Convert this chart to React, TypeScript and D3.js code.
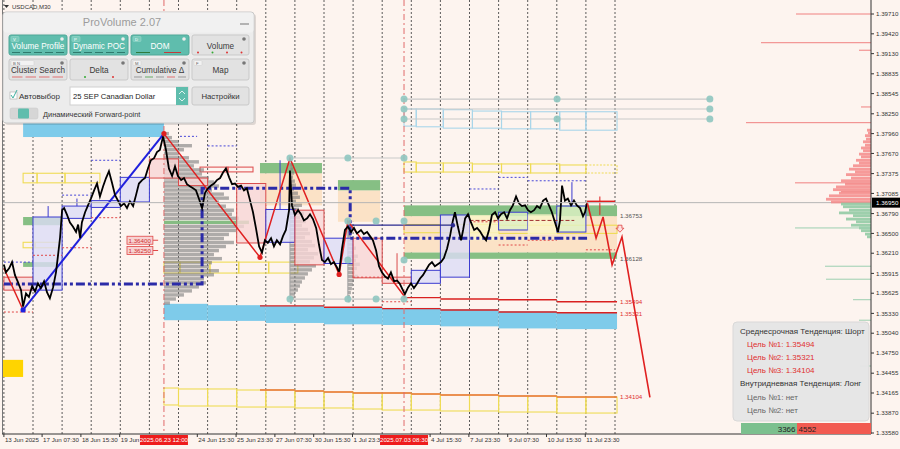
import React from "react";
import * as d3 from "d3";

// ---------------- DATA ----------------
const priceTicks = [1.39710,1.39420,1.39130,1.38835,1.38545,1.38250,1.37960,1.37670,1.37375,1.37085,1.36790,1.36500,1.36210,1.35915,1.35625,1.35330,1.35040,1.34750,1.34455,1.34165,1.33870,1.33580];
const currentPrice = 1.36950;

// t = trading days since 16 Jun 00:00
const timeLabels: [number, string][] = [[0,"13 Jun 2025"],[1.3125,"17 Jun 07:30"],[2.646,"18 Jun 15:30"],[3.979,"19 Jun 23:30"],[6.646,"24 Jun 15:30"],[7.979,"25 Jun 23:30"],[9.3125,"27 Jun 07:30"],[10.646,"30 Jun 15:30"],[11.979,"1 Jul 23:30"],[14.646,"4 Jul 15:30"],[15.979,"7 Jul 23:30"],[17.3125,"9 Jul 07:30"],[18.646,"10 Jul 15:30"],[19.979,"11 Jul 23:30"]];
const markerLabels: [number, string][] = [[5.5,"2025.06.23 12:00"],[13.75,"2025.07.03 08:30"]];
const dayStarts = d3.range(0, 22);

const priceSeries: [number, number][] = [
[0.00,1.3604],[0.07,1.3593],[0.18,1.3599],[0.28,1.3608],[0.38,1.3589],[0.48,1.3579],[0.59,1.3567],[0.66,1.3543],[0.76,1.3562],[0.86,1.3557],[0.97,1.3573],[1.07,1.3565],[1.17,1.3577],[1.27,1.3570],[1.38,1.3580],[1.48,1.3564],[1.58,1.3555],[1.69,1.3571],[1.79,1.3593],[1.86,1.3618],[1.93,1.3644],[2.00,1.3684],[2.07,1.3687],[2.17,1.3677],[2.27,1.3666],[2.37,1.3660],[2.48,1.3652],[2.55,1.3663],[2.62,1.3643],[2.68,1.3666],[2.79,1.3681],[2.89,1.3691],[2.99,1.3701],[3.10,1.3713],[3.20,1.3723],[3.30,1.3704],[3.41,1.3719],[3.51,1.3731],[3.61,1.3741],[3.71,1.3725],[3.82,1.3706],[3.92,1.3698],[4.02,1.3690],[4.13,1.3694],[4.23,1.3687],[4.33,1.3697],[4.44,1.3690],[4.54,1.3706],[4.64,1.3723],[4.75,1.3728],[4.85,1.3731],[4.95,1.3745],[5.05,1.3757],[5.16,1.3760],[5.26,1.3769],[5.36,1.3772],[5.47,1.3792],[5.57,1.3772],[5.67,1.3745],[5.78,1.3734],[5.88,1.3748],[5.98,1.3734],[6.09,1.3728],[6.19,1.3731],[6.29,1.3722],[6.39,1.3719],[6.50,1.3716],[6.60,1.3713],[6.70,1.3701],[6.81,1.3687],[6.91,1.3709],[7.01,1.3716],[7.12,1.3720],[7.22,1.3723],[7.32,1.3728],[7.43,1.3731],[7.53,1.3739],[7.63,1.3745],[7.74,1.3732],[7.84,1.3722],[7.94,1.3723],[8.04,1.3718],[8.15,1.3720],[8.25,1.3713],[8.35,1.3716],[8.46,1.3698],[8.56,1.3681],[8.66,1.3658],[8.77,1.3631],[8.87,1.3622],[8.97,1.3640],[9.07,1.3636],[9.18,1.3643],[9.28,1.3631],[9.38,1.3640],[9.49,1.3634],[9.59,1.3646],[9.69,1.3655],[9.80,1.3684],[9.83,1.3742],[9.90,1.3691],[10.00,1.3677],[10.11,1.3684],[10.21,1.3678],[10.31,1.3669],[10.42,1.3672],[10.52,1.3678],[10.62,1.3671],[10.73,1.3658],[10.83,1.3633],[10.93,1.3611],[11.03,1.3608],[11.14,1.3614],[11.24,1.3605],[11.34,1.3608],[11.45,1.3600],[11.52,1.3593],[11.62,1.3628],[11.72,1.3655],[11.82,1.3660],[11.93,1.3652],[12.03,1.3658],[12.13,1.3650],[12.27,1.3655],[12.37,1.3649],[12.48,1.3652],[12.58,1.3646],[12.68,1.3640],[12.79,1.3625],[12.89,1.3602],[12.99,1.3593],[13.10,1.3587],[13.20,1.3584],[13.30,1.3593],[13.41,1.3580],[13.51,1.3581],[13.61,1.3576],[13.71,1.3567],[13.78,1.3561],[13.89,1.3571],[13.99,1.3577],[14.09,1.3570],[14.19,1.3576],[14.30,1.3584],[14.40,1.3589],[14.50,1.3596],[14.61,1.3604],[14.71,1.3608],[14.81,1.3602],[14.91,1.3605],[15.02,1.3608],[15.12,1.3614],[15.23,1.3628],[15.33,1.3646],[15.43,1.3669],[15.50,1.3681],[15.60,1.3660],[15.71,1.3640],[15.78,1.3655],[15.85,1.3672],[15.95,1.3678],[16.05,1.3666],[16.16,1.3655],[16.26,1.3658],[16.36,1.3653],[16.46,1.3646],[16.57,1.3640],[16.67,1.3655],[16.77,1.3677],[16.88,1.3681],[16.98,1.3672],[17.08,1.3678],[17.19,1.3681],[17.29,1.3672],[17.39,1.3684],[17.49,1.3691],[17.60,1.3704],[17.70,1.3694],[17.80,1.3690],[17.91,1.3691],[18.01,1.3684],[18.11,1.3681],[18.22,1.3684],[18.32,1.3690],[18.42,1.3687],[18.53,1.3698],[18.63,1.3701],[18.73,1.3691],[18.83,1.3681],[18.94,1.3666],[19.04,1.3652],[19.11,1.3669],[19.18,1.3720],[19.28,1.3698],[19.38,1.3701],[19.49,1.3691],[19.59,1.3698],[19.69,1.3691],[19.80,1.3687],[19.90,1.3675],[19.97,1.3681],[20.04,1.3695]
];

const zigzagRedA: [number, number][] = [[0,1.3599],[0.66,1.3538]];
const zigzagBlue: [number, number][] = [[0.66,1.3538],[5.5,1.3796]];
const zigzagRedB: [number, number][] = [[5.5,1.3796],[8.80,1.3615],[9.83,1.3760],[11.52,1.3590],[11.82,1.3668],[13.78,1.3557]];
const forecast: [number, number][] = [[20.04,1.3696],[20.35,1.3643],[20.59,1.3674],[20.90,1.3604],[21.24,1.3645],[22.20,1.3410]];
const redDots: [number, number][] = [[5.5,1.3796],[8.80,1.3615],[11.52,1.3590]];
const blueDots: [number, number][] = [[0.66,1.3538]];

const pocPath: [number, number][] = [[0,1.3576],[6.81,1.3576],[6.81,1.3716],[11.9,1.3716],[11.9,1.3643],[20.04,1.3643]];

// day value-area boxes [t0,t1,hi,lo,kind]
const dayBoxes: [number, number, number, number, string][] = [
 [0,1,1.3586,1.3567,"r"],[1,2,1.3674,1.3567,"b"],[2,3,1.3690,1.3672,"b"],[3,4,1.3698,1.3688,"b"],[4,5,1.3732,1.3696,"b"],
 [5,6,1.3759,1.3731,"r"],[6,7,1.3731,1.3720,"r"],[8,9,1.3723,1.3636,"r"],[9,10,1.3685,1.3637,"b"],[10,11,1.3684,1.3604,"r"],
 [11,12,1.3643,1.3606,"b"],[12,13,1.3643,1.3585,"r"],[13,14,1.3586,1.3577,"r"],[14,15,1.3596,1.3577,"b"],[15,16,1.3677,1.3586,"b"],
 [16,17,1.3677,1.3640,"y"],[17,18,1.3681,1.3655,"g"],[18,19,1.3678,1.3648,"y"],[19,20,1.3690,1.3652,"g"]
];

// filled zones [t0,t1,hi,lo,kind]
const zones: [number, number, number, number, string][] = [
 [0.66,5.5,1.3813,1.3791,"cyan"],
 [5.5,7,1.3547,1.3523,"cyan"],[7,9,1.3545,1.3522,"cyan"],[9,11,1.3544,1.3519,"cyan"],[11,13,1.3542,1.3517,"cyan"],
 [13,15,1.3541,1.3516,"cyan"],[15,17,1.3539,1.3514,"cyan"],[17,19,1.3536,1.3511,"cyan"],[19,21.07,1.3535,1.3510,"cyan"],
 [0.66,2,1.3674,1.3662,"green"],[0.66,1.8,1.3608,1.3601,"green"],
 [8.8,10.93,1.3738,1.3691,"peach"],[8.8,10.93,1.3753,1.3738,"green"],
 [11.48,12.93,1.3713,1.3667,"peach"],[11.48,12.93,1.3728,1.3713,"green"],
 [13.75,21.07,1.36753,1.3622,"peach"],[13.75,21.07,1.3691,1.36753,"green"],[13.75,21.07,1.3622,1.36128,"green"],
 [-0.03,0.66,1.3465,1.3440,"gold"]
];

// outline boxes [t0,t1,hi,lo,kind]
const outlineBoxes: [number, number, number, number, string][] = [
 [0.66,1.14,1.3738,1.3724,"y"],[1.14,2.1,1.3738,1.3724,"y"],[2.1,3.3,1.3738,1.3724,"y"],
 [0.66,1.07,1.3637,1.3629,"y"],[1.07,1.93,1.3637,1.3629,"y"],
 [5.5,6.05,1.3608,1.3592,"y"],[6.05,7.08,1.3608,1.3592,"y"],[7.08,8.07,1.3608,1.3592,"y"],[8.07,9.1,1.3608,1.3592,"y"],[9.1,10.1,1.3608,1.3592,"y"],
 [6.74,7.7,1.3747,1.3740,"r"],[7.7,8.56,1.3747,1.3740,"r"],
 [13.75,14.17,1.37545,1.37398,"y"],[14.17,15.1,1.37530,1.37398,"y"],[15.1,16.1,1.37530,1.37398,"y"],[16.1,17.1,1.37516,1.37398,"y"],
 [17.1,18.1,1.37516,1.37384,"y"],[18.1,19.1,1.37516,1.37384,"y"],[19.1,20.0,1.37501,1.37384,"y"],[20.0,21.07,1.37501,1.37384,"yd"],
 [13.75,14.17,1.3832,1.3807,"c"],[14.17,15.1,1.3832,1.3806,"c"],[15.1,16.1,1.3831,1.3804,"c"],[16.1,17.1,1.3829,1.3804,"c"],
 [17.1,18.1,1.3828,1.3803,"c"],[18.1,19.1,1.3828,1.3803,"c"],[19.1,20.0,1.3828,1.3801,"c"],[20.0,21.07,1.3828,1.3801,"c"],
 [13.75,15,1.3663,1.3651,"y"],[15,17,1.3663,1.3651,"y"],[17,19,1.3662,1.3650,"y"],[19,21.07,1.3662,1.3650,"y"],
 [5.5,6,1.34238,1.33990,"y"],[6,7,1.34224,1.33975,"y"],[7,8,1.34224,1.33975,"y"],[8,9,1.34209,1.33960,"y"],[9,10,1.34209,1.33960,"y"],
 [10,11,1.34194,1.33946,"y"],[11,12,1.34180,1.33946,"y"],[12,13,1.34165,1.33931,"y"],[13,14,1.34165,1.33916,"y"],[14,15,1.34150,1.33916,"y"],
 [15,16,1.34136,1.33902,"y"],[16,17,1.34136,1.33902,"y"],[17,18,1.34121,1.33887,"y"],[18,19,1.34121,1.33887,"y"],[19,20,1.34106,1.33872,"y"],[20,21.07,1.34106,1.33872,"y"]
];

// stepped target lines [t0,t1,price]
const target1Steps: [number, number, number][] = [[13.75,15,1.3556],[15,17,1.3554],[17,19,1.3553],[19,21.07,1.3550]];
const target2Steps: [number, number, number][] = [[8.8,11,1.3544],[11,13,1.3542],[13,15,1.3540],[15,17,1.3538],[17,19,1.3535],[19,21.07,1.3534]];
const target3Steps: [number, number, number][] = [[8.8,10,1.34209],[10,11,1.34194],[11,12,1.34180],[12,14,1.34165],[14,15,1.34150],[15,17,1.34136],[17,19,1.34121],[19,21.07,1.34106]];

const levelLabels: [number, string, string][] = [[1.36753,"1.36753","#555"],[1.36128,"1.36128","#555"],[1.35494,"1.35494","#e03030"],[1.35321,"1.35321","#e03030"],[1.34104,"1.34104","#e03030"]];

// dotted day levels [t0,t1,price,kind]
const dottedLevels: [number, number, number, string][] = [
 [0,1,1.3608,"b"],[2,3,1.3706,"b"],[3,4,1.3757,"b"],[6.05,6.64,1.3792,"b"],[7,8,1.3778,"b"],[16,17,1.3715,"b"],[17,18,1.3732,"b"],[18,20,1.3727,"b"],
 [0,1,1.3535,"r"],[1,2,1.3618,"r"],[2,3,1.3629,"r"],[3,4,1.3673,"r"],[12,13,1.3586,"r"],[13,14,1.3550,"r"],[16,17,1.3667,"r"],[17,18,1.3633,"r"],[18,19,1.3640,"r"],[20,21,1.3626,"r"]
];
const wicks: [number, number, number, string][] = [[1.52,1.3690,1.3674,"b"],[2.51,1.3701,1.3690,"b"],[9.49,1.3757,1.3685,"b"],[19.52,1.3725,1.3690,"b"],[13.51,1.3621,1.3582,"r"]];

// gray guide lines with dots [t0,t1,price]
const guideLines: [number, number, number][] = [[13.75,24.26,1.38466],[13.75,24.26,1.38320],[13.75,24.26,1.38174],[9.83,13.75,1.37603],[9.83,13.75,1.35540]];
const guideDots: [number, number][] = [[13.75,1.38466],[19.01,1.38466],[24.26,1.38466],[13.75,1.38320],[24.26,1.38320],[13.75,1.38174],[19.01,1.38174],[24.26,1.38174],
 [9.83,1.37603],[11.82,1.37603],[13.75,1.37603],[11.82,1.3668],[12.79,1.3668],[13.75,1.3668],[11.82,1.3611],[13.75,1.3611],
 [9.83,1.35540],[11.82,1.35540],[12.79,1.35540],[13.75,1.35540]];

// volume profiles (bins top->down)
const profileStep = 0.00059;
const profile1 = { t: 5.5, top: 1.3796, vols: [5,8,15,28,20,15,25,35,30,40,38,45,50,55,48,60,65,55,62,70,68,75,85,80,72,65,60,70,62,55,50,58,48,45,55,50,40,42,35,28,20,12,6], poc: 22 };
const profile2 = { t: 9.83, top: 1.37501, vols: [2,3,4,3,5,6,4,8,10,6,12,9,14,10,16,12,18,20,15,22,25,18,28,24,20,26,22,18,15,12,10,8,5,4,2], poc: -1 };
const profile3 = { t: 11.82, top: 1.36579, vols: [2,4,3,6,5,8,6,10,8,12,9,7,10,6,5,4,3,2,2], poc: -1 };

// DOM (order book) profile at right edge
const domAsks: [number, number][] = [[1.3801,4],[1.3797,3],[1.3793,6],[1.3788,5],[1.3784,8],[1.3779,6],[1.3775,10],[1.3771,8],[1.3766,12],[1.3762,10],[1.3757,15],[1.3753,12],[1.3749,18],[1.3744,22],[1.3740,16],[1.3736,25],[1.3731,20],[1.3727,30],[1.3722,26],[1.3718,35],[1.3714,38],[1.3709,32],[1.3705,42],[1.3700,45],[1.3696,40]];
const domBids: [number, number][] = [[1.3693,30],[1.3689,28],[1.3684,22],[1.3680,32],[1.3676,18],[1.3671,25],[1.3667,15],[1.3662,20],[1.3658,12],[1.3654,10],[1.3649,6],[1.3645,4]];
const domAskLines: [number, number][] = [[1.3971,75],[1.3929,110],[1.3918,12],[1.3835,10],[1.3812,125],[1.3724,76],[1.3711,30]];
const domBidLines: [number, number][] = [[1.3658,76],[1.3602,46],[1.3583,45],[1.3553,18],[1.3523,12],[1.3456,11]];

const infoLines: [string, string, boolean][] = [
 ["Среднесрочная Тенденция: Шорт","#333",false],["Цель №1: 1.35494","#e03030",true],["Цель №2: 1.35321","#e03030",true],["Цель №3: 1.34104","#e03030",true],
 ["Внутридневная Тенденция: Лонг","#333",false],["Цель №1: нет","#666",true],["Цель №2: нет","#666",true]
];
const buyVolume = 3366, sellVolume = 4552;

// ---------------- COMPONENT ----------------
const FONT = "'Liberation Sans', Arial, sans-serif";

function Btn({ x, y, w, h, label, active, badge, children }: any) {
  const teal = "#5fbdad";
  return (
    <g>
      <rect x={x} y={y} width={w} height={h} rx={2} fill={active ? teal : "#e2e2e2"} stroke={active ? "#4fa797" : "#c9c9c9"} />
      {badge && <g><rect x={x + 2} y={y + 1.5} width={badge.length * 5 + 3} height={5} rx={1} fill={active ? "#78cabb" : "#f2f2f2"} stroke={active ? "#9fdacf" : "#cfcfcf"} strokeWidth={0.5} />
        <text x={x + 4} y={y + 5.6} fontSize={4.2} fill={active ? "#fff" : "#666"}>{badge}</text></g>}
      <circle cx={x + w - 5} cy={y + 4} r={1.8} fill={active ? "#eee" : "#777"} />
      <text x={x + w / 2} y={y + 13.5} fontSize={8.2} textAnchor="middle" fill={active ? "#fff" : "#3a3a3a"}>{label}</text>
      {children}
    </g>
  );
}

function Panel() {
  const dash = (x0: number, y0: number, n: number, w: number, colors: string[]) =>
    d3.range(n).map(i => <line key={i} x1={x0 + i * w + 1} x2={x0 + i * w + w - 2} y1={y0} y2={y0} stroke={colors[i % colors.length]} strokeWidth={1} />);
  return (
    <g fontFamily={FONT}>
      <rect x={5} y={14} width={251} height={111} rx={3} fill="#000" opacity={0.12} />
      <rect x={3} y={12} width={251} height={111} rx={3} fill="#ececec" stroke="#c8c8c8" />
      <rect x={3.5} y={12.5} width={250} height={20} rx={3} fill="#f1f1f1" />
      <text x={122} y={26} fontSize={11} textAnchor="middle" fill="#9c9c9c">ProVolume 2.07</text>
      <line x1={240} x2={249} y1={24} y2={24} stroke="#8a8a8a" strokeWidth={1.2} />
      <Btn x={9} y={35} w={58} h={20} label="Volume Profile" active badge="V">{dash(11, 52.5, 5, 11, ["#2f7a6d"])}</Btn>
      <Btn x={70} y={35} w={58} h={20} label="Dynamic POC" active badge="P">{dash(72, 52.5, 5, 11, ["#2f7a6d"])}</Btn>
      <Btn x={131} y={35} w={58} h={20} label="DOM" active badge="D"><line x1={136} x2={150} y1={52.5} y2={52.5} stroke="#2f7a3d" /><line x1={164} x2={181} y1={52.5} y2={52.5} stroke="#c23a3a" /></Btn>
      <Btn x={192} y={35} w={57} h={20} label="Volume">{["#d33","#3a3","#d33","#d33"].map((c, i) => <circle key={i} cx={198 + i * 14.5} cy={52.5} r={1} fill={c} />)}</Btn>
      <Btn x={9} y={59} w={58} h={21} label="Cluster Search" badge="B  N">{dash(11, 77, 4, 13.5, ["#e07070"])}</Btn>
      <Btn x={70} y={59} w={58} h={21} label="Delta"><circle cx={85} cy={77} r={1} fill="#3a3" /><circle cx={113} cy={77} r={1} fill="#d33" /></Btn>
      <Btn x={131} y={59} w={58} h={21} label="Cumulative Δ" badge="M">{dash(133, 77, 5, 11, ["#999", "#6a6", "#999", "#e07070", "#999"])}</Btn>
      <Btn x={192} y={59} w={57} h={21} label="Map" badge="F" />
      <rect x={10} y={92} width={7} height={7} fill="#fff" stroke="#aaa" strokeWidth={0.6} />
      <path d="M11,95 L13,98 L17,90" fill="none" stroke="#3fb0a0" strokeWidth={1} />
      <text x={19} y={99} fontSize={8} fill="#333">Автовыбор</text>
      <rect x={70} y={87} width={118} height={18} fill="#fff" stroke="#cfcfcf" />
      <text x={73} y={99} fontSize={7.6} fill="#222">25 SEP Canadian Dollar</text>
      <rect x={176} y={87} width={12} height={18} fill="#5fbdad" />
      <path d="M179,94 L182,91 L185,94 M179,98 L182,101 L185,98" fill="none" stroke="#fff" strokeWidth={0.8} />
      <rect x={192} y={87} width={57} height={18} rx={2} fill="#e2e2e2" stroke="#c9c9c9" />
      <text x={220.5} y={99} fontSize={7.8} textAnchor="middle" fill="#333">Настройки</text>
      <rect x={10} y={108} width={28} height={11} rx={2} fill="#d6d6d6" stroke="#c8c8c8" strokeWidth={0.5} />
      <rect x={18} y={108.5} width={11} height={10} rx={1} fill="#5fbdad" />
      <text x={43} y={117} fontSize={7.4} fill="#333">Динамический Forward-point</text>
    </g>
  );
}

export default function App() {
  const x = d3.scaleLinear().domain([0, 29.8]).range([3.9, 871.08]);
  const y = d3.scaleLinear().domain([1.3358, 1.3971]).range([433, 14]);
  const vol = d3.scaleLinear().domain([0, 100]).range([0, 100]);
  const line = d3.line<[number, number]>().x(d => x(d[0])).y(d => y(d[1]));
  const R = (t0: number, t1: number, hi: number, lo: number) => ({ x: x(t0), y: y(hi), width: x(t1) - x(t0), height: y(lo) - y(hi) });
  const AXR = 871, AXB = 434;

  const zoneFill: any = { cyan: "#7ecbea", green: "#86bf84", peach: "#fbe2c6", gold: "#ffd400" };
  const boxStyle: any = {
    r: { fill: "#f8d6d6", stroke: "#d94c4c" }, b: { fill: "#dcdcf6", stroke: "#3c3cd0" },
    y: { fill: "#fbf6c8", stroke: "none" }, g: { fill: "#def3c6", stroke: "#3c3cd0" }
  };
  const outlineStroke: any = { y: "#efdc55", yd: "#efdc55", r: "#e05555", c: "#a9d6ea" };

  const profileBars = (p: any, key: string) => p.vols.map((v: number, i: number) => {
    const pr = p.top - i * profileStep;
    const yc = y(pr);
    return <rect key={key + i} x={x(p.t)} y={yc - 1.7} width={vol(v)} height={3.4} fill={i === p.poc ? "#7fb87c" : "#7a7a7a"} opacity={i === p.poc ? 0.95 : 0.6} />;
  });

  const stepPath = (steps: [number, number, number][]) => steps.map(s => `M${x(s[0])},${y(s[2])}H${x(s[1])}`).join("");

  return (
    <svg width={900} height={449} style={{ position: "fixed", left: 0, top: 0, display: "block" }} fontFamily={FONT}>
      <defs>
        {markerLabels.map(([t], i) => (
          <clipPath key={"cp" + i} id={"tclip" + i}><rect x={0} y={AXB} width={x(t) - 24} height={15} /></clipPath>
        ))}
      </defs>
      <rect x={0} y={0} width={900} height={449} fill="#fdf4ef" />

      {/* day separators */}
      {dayStarts.map(t => <line key={"d" + t} x1={x(t)} x2={x(t)} y1={0} y2={AXB} stroke="#4a4a4a" strokeWidth={0.9} strokeDasharray="2 2" />)}

      {/* zones */}
      {zones.map((z, i) => <rect key={"z" + i} {...R(z[0], z[1], z[2], z[3])} fill={zoneFill[z[4]]} />)}

      {/* outline boxes */}
      {outlineBoxes.map((b, i) => <rect key={"o" + i} {...R(b[0], b[1], b[2], b[3])} fill="none" stroke={outlineStroke[b[4]]} strokeWidth={1.1} strokeDasharray={b[4] === "yd" ? "2 1.5" : undefined} />)}

      {/* volume profiles */}
      {profileBars(profile1, "p1")}
      {profileBars(profile2, "p2")}
      {profileBars(profile3, "p3")}
      <line x1={x(profile2.t)} x2={x(profile2.t)} y1={y(1.3760)} y2={y(1.3554)} stroke="#a0a0a0" />
      <line x1={x(profile3.t)} x2={x(profile3.t)} y1={y(1.3668)} y2={y(1.3554)} stroke="#a0a0a0" />

      {/* day boxes */}
      {dayBoxes.map((b, i) => <rect key={"b" + i} {...R(b[0], b[1], b[2], b[3])} fill={boxStyle[b[4]].fill} fillOpacity={0.8} stroke={boxStyle[b[4]].stroke} strokeWidth={1} />)}
      <line x1={x(16)} x2={x(19.6)} y1={y(1.3669)} y2={y(1.3669)} stroke="#a03030" strokeWidth={1} strokeDasharray="4 2" />

      {/* dotted levels and wicks */}
      {dottedLevels.map((d, i) => <line key={"dl" + i} x1={x(d[0])} x2={x(d[1])} y1={y(d[2])} y2={y(d[2])} stroke={d[3] === "b" ? "#4646d8" : "#e04848"} strokeWidth={1} strokeDasharray="2 2" />)}
      {wicks.map((w, i) => <line key={"w" + i} x1={x(w[0])} x2={x(w[0])} y1={y(w[1])} y2={y(w[2])} stroke={w[3] === "b" ? "#3c3cd0" : "#d94c4c"} strokeWidth={1} />)}

      {/* guides */}
      {guideLines.map((g, i) => <line key={"g" + i} x1={x(g[0])} x2={x(g[1])} y1={y(g[2])} y2={y(g[2])} stroke="#c9c9c9" strokeWidth={1.2} />)}
      <line x1={x(11.82)} x2={x(15.43)} y1={y(1.3662)} y2={y(1.3662)} stroke="#2a2a90" strokeWidth={1.2} />

      {/* target lines */}
      <path d={stepPath(target1Steps)} stroke="#d92020" strokeWidth={1.4} fill="none" />
      <path d={stepPath(target2Steps)} stroke="#d92020" strokeWidth={1.4} fill="none" />
      <path d={stepPath(target3Steps)} stroke="#e8743a" strokeWidth={1.6} fill="none" />

      {/* red marker verticals */}
      {markerLabels.map(([t], i) => <line key={"mv" + i} x1={x(t)} x2={x(t)} y1={0} y2={AXB} stroke="#e06a6a" strokeWidth={1} strokeDasharray="6 3 2 3" />)}

      {/* POC dash-dot */}
      <path d={line(pocPath) || ""} fill="none" stroke="#2b2ba8" strokeWidth={3} strokeDasharray="9 3 3 3 3 3" />

      {/* zigzag */}
      <path d={line(zigzagBlue) || ""} fill="none" stroke="#2020dd" strokeWidth={2} />
      <path d={line(zigzagRedA) || ""} fill="none" stroke="#e02020" strokeWidth={1.5} />
      <path d={line(zigzagRedB) || ""} fill="none" stroke="#e02020" strokeWidth={1.5} />

      {/* price */}
      <path d={line(priceSeries) || ""} fill="none" stroke="#000" strokeWidth={1.8} strokeLinejoin="miter" />

      {redDots.map((d, i) => <circle key={"rd" + i} cx={x(d[0])} cy={y(d[1])} r={2.6} fill="#e02020" />)}
      {blueDots.map((d, i) => <circle key={"bd" + i} cx={x(d[0])} cy={y(d[1])} r={2.6} fill="#2020dd" />)}
      {guideDots.map((d, i) => <circle key={"gd" + i} cx={x(d[0])} cy={y(d[1])} r={3.5} fill="#8fc6c0" opacity={0.9} />)}
      <circle cx={x(15.43)} cy={y(1.3662)} r={2.2} fill="#2a2a90" />

      {/* forecast */}
      <line x1={x(20.04)} x2={x(21.0)} y1={y(1.3697)} y2={y(1.3697)} stroke="#e02020" strokeWidth={1.4} />
      <line x1={x(20.48)} x2={x(20.48)} y1={y(1.3704)} y2={y(1.3677)} stroke="#e02020" strokeWidth={1} />
      <path d={line(forecast) || ""} fill="none" stroke="#e02020" strokeWidth={1.6} />
      <path d={`M${x(21.17) - 2},${y(1.3662)} h4 v3 h2 l-4,4 l-4,-4 h2 z`} fill="#fde0e0" stroke="#e04040" strokeWidth={0.8} />

      {/* price box labels */}
      {[1.3640, 1.3625].map((p, i) => (
        <g key={"pl" + i}>
          <line x1={x(5.12)} x2={x(5.3)} y1={y(p)} y2={y(p)} stroke="#e04848" />
          <rect x={x(4.23)} y={y(p) - 4} width={x(5.12) - x(4.23)} height={8} fill="#f7d2d2" stroke="#e04848" strokeWidth={0.8} />
          <text x={x(4.23) + 1.5} y={y(p) + 2.3} fontSize={6.2} fill="#d03030">{p.toFixed(5)}</text>
        </g>
      ))}

      {/* level labels */}
      {levelLabels.map(([p, s, c], i) => <text key={"ll" + i} x={x(21.17)} y={y(p) + 2.2} fontSize={6.2} fill={c}>{s}</text>)}

      {/* current price line */}
      <line x1={2} x2={AXR} y1={y(currentPrice)} y2={y(currentPrice)} stroke="#b5b5b5" strokeWidth={1} />

      {/* DOM */}
      {domAsks.map(([p, v], i) => <rect key={"da" + i} x={AXR - vol(v)} y={y(p) - 1.4} width={vol(v)} height={2.8} fill="#f48a8a" opacity={0.85} />)}
      {domBids.map(([p, v], i) => <rect key={"db" + i} x={AXR - vol(v)} y={y(p) - 1.4} width={vol(v)} height={2.8} fill="#8cc8a0" opacity={0.85} />)}
      {domAskLines.map(([p, v], i) => <line key={"dal" + i} x1={AXR - vol(v)} x2={AXR} y1={y(p)} y2={y(p)} stroke="#f08080" strokeWidth={1} />)}
      {domBidLines.map(([p, v], i) => <line key={"dbl" + i} x1={AXR - vol(v)} x2={AXR} y1={y(p)} y2={y(p)} stroke="#9ccfb0" strokeWidth={1} />)}

      {/* frame / axes */}
      <line x1={2.5} x2={2.5} y1={0} y2={AXB} stroke="#777" />
      <line x1={AXR} x2={AXR} y1={0} y2={AXB} stroke="#333" />
      <line x1={2} x2={AXR} y1={AXB} y2={AXB} stroke="#333" />
      {priceTicks.map((p, i) => (
        <g key={"pt" + i}>
          <line x1={AXR} x2={AXR + 3} y1={y(p)} y2={y(p)} stroke="#333" />
          <text x={AXR + 5} y={y(p) + 2.2} fontSize={6.2} fill="#333">{p.toFixed(5)}</text>
        </g>
      ))}
      <rect x={AXR + 1} y={y(currentPrice) - 5} width={28} height={10} fill="#000" />
      <text x={AXR + 5} y={y(currentPrice) + 2.2} fontSize={6.2} fill="#fff">{currentPrice.toFixed(5)}</text>

      {timeLabels.map(([t, s], i) => {
        const clipIdx = markerLabels.findIndex(([mt]) => x(t) < x(mt) - 24 && x(t) + 38 > x(mt) - 24);
        return (
          <g key={"tl" + i}>
            <line x1={x(t)} x2={x(t)} y1={AXB} y2={AXB + 3} stroke="#333" />
            <text x={x(t) + 1} y={AXB + 8} fontSize={6.2} fill="#333" clipPath={clipIdx >= 0 ? `url(#tclip${clipIdx})` : undefined}>{s}</text>
          </g>
        );
      })}
      {markerLabels.map(([t, s], i) => (
        <g key={"ml" + i}>
          <rect x={x(t) - 24} y={AXB + 1} width={48} height={10} fill="#ee1c1c" />
          <text x={x(t)} y={AXB + 8.3} fontSize={6.2} textAnchor="middle" fill="#fff">{s}</text>
        </g>
      ))}

      {/* symbol label */}
      <path d="M4,5 L9,5 L6.5,8 Z" fill="#333" />
      <text x={12} y={9} fontSize={6} fill="#333">USDCAD,M30</text>

      {/* info box */}
      <rect x={733} y={322} width={136} height={99} rx={4} fill="#e6e6e6" stroke="#d8d8d8" opacity={0.96} />
      {infoLines.map(([s, c, ind], i) => <text key={"il" + i} x={ind ? 747 : 740} y={334 + i * 13.1} fontSize={8} fill={c}>{s}</text>)}
      <rect x={741} y={423} width={56} height={11} fill="#7cc08e" />
      <rect x={797} y={423} width={74} height={11} fill="#f25a50" />
      <text x={795.5} y={431.5} fontSize={8} textAnchor="end" fill="#222">{buyVolume}</text>
      <text x={798.5} y={431.5} fontSize={8} fill="#222">{sellVolume}</text>

      <Panel />
    </svg>
  );
}
